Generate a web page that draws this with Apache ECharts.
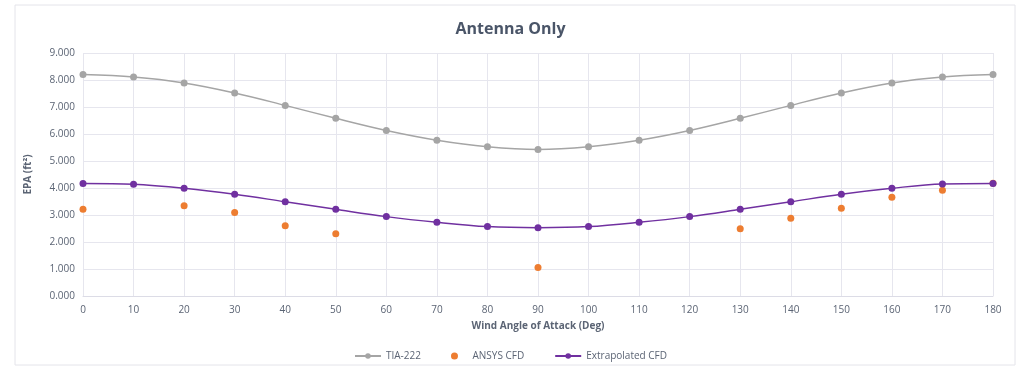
<!DOCTYPE html>
<html><head><meta charset="utf-8">
<script src="https://cdn.jsdelivr.net/npm/echarts@6/dist/echarts.min.js"></script>
<style>html,body{margin:0;padding:0;background:#fff}#c{width:1021px;height:377px}</style>
</head><body><div id="c"></div>
<script>
const angles = [0,10,20,30,40,50,60,70,80,90,100,110,120,130,140,150,160,170,180];
const tia222 = [8.20,8.11,7.89,7.52,7.06,6.58,6.13,5.77,5.53,5.43,5.53,5.77,6.13,6.58,7.06,7.52,7.89,8.11,8.20];
const extrapolated = [4.17,4.14,3.99,3.77,3.49,3.21,2.94,2.73,2.57,2.53,2.57,2.73,2.94,3.21,3.49,3.77,3.99,4.15,4.17];
const ansysAngles = [0,20,30,40,50,90,130,140,150,160,170,180];
const ansys = [3.21,3.34,3.09,2.60,2.31,1.06,2.49,2.88,3.25,3.66,3.92,4.18];
const yTicks = [0,1,2,3,4,5,6,7,8,9];

const zip = (xs, ys) => xs.map((x, i) => [x, ys[i]]);
const txt = '#5b6474';
const chart = echarts.init(document.getElementById('c'));
chart.setOption({
  animation: false,
  title: { text: 'Antenna Only', left: 'center', top: 16,
    textStyle: { fontFamily: 'Open Sans', fontSize: 16, fontWeight: 'bold', color: '#4a5568' } },
  graphic: [{ type: 'rect', shape: { x: 15, y: 5, width: 1000, height: 360 },
    style: { fill: 'none', stroke: '#e4e4ea', lineWidth: 1 }, silent: true, z: -1 }],
  grid: { left: 83, right: 28, top: 53, bottom: 81 },
  legend: { bottom: 11, left: 'center', itemGap: 30, itemWidth: 26, itemHeight: 7,
    textStyle: { fontFamily: 'Open Sans', fontSize: 10, color: txt },
    data: ['TIA-222', 'ANSYS CFD', 'Extrapolated CFD'] },
  xAxis: { type: 'value', min: 0, max: 180, interval: 10,
    name: 'Wind Angle of Attack (Deg)', nameLocation: 'middle', nameGap: 25,
    nameTextStyle: { fontFamily: 'Open Sans', fontSize: 10, fontWeight: 'bold', color: txt },
    axisLine: { show: true, lineStyle: { color: '#dcdce6' } }, axisTick: { show: false },
    axisLabel: { fontFamily: 'Open Sans', fontSize: 10, color: txt, margin: 9 },
    splitLine: { show: true, lineStyle: { color: '#e6e6ee' } } },
  yAxis: { type: 'value', min: yTicks[0], max: yTicks[yTicks.length - 1], interval: 1,
    name: 'EPA (ft²)', nameLocation: 'middle', nameGap: 50,
    nameTextStyle: { fontFamily: 'Open Sans', fontSize: 10, fontWeight: 'bold', color: txt },
    axisLine: { show: false }, axisTick: { show: false },
    axisLabel: { fontFamily: 'Open Sans', fontSize: 10, color: txt, formatter: v => v.toFixed(3) },
    splitLine: { show: true, lineStyle: { color: '#e6e6ee' } } },
  series: [
    { name: 'TIA-222', type: 'line', smooth: 0.35, data: zip(angles, tia222),
      symbol: 'circle', symbolSize: 7, color: '#a5a5a5', lineStyle: { width: 1.5, color: '#a5a5a5' } },
    { name: 'ANSYS CFD', type: 'scatter', data: zip(ansysAngles, ansys),
      symbol: 'circle', symbolSize: 7, color: '#ed7d31', itemStyle: { opacity: 1 }, z: 3 },
    { name: 'Extrapolated CFD', type: 'line', smooth: 0.35, data: zip(angles, extrapolated),
      symbol: 'circle', symbolSize: 7, color: '#7030a0', lineStyle: { width: 1.5, color: '#7030a0' }, z: 4 }
  ]
});
</script></body></html>
